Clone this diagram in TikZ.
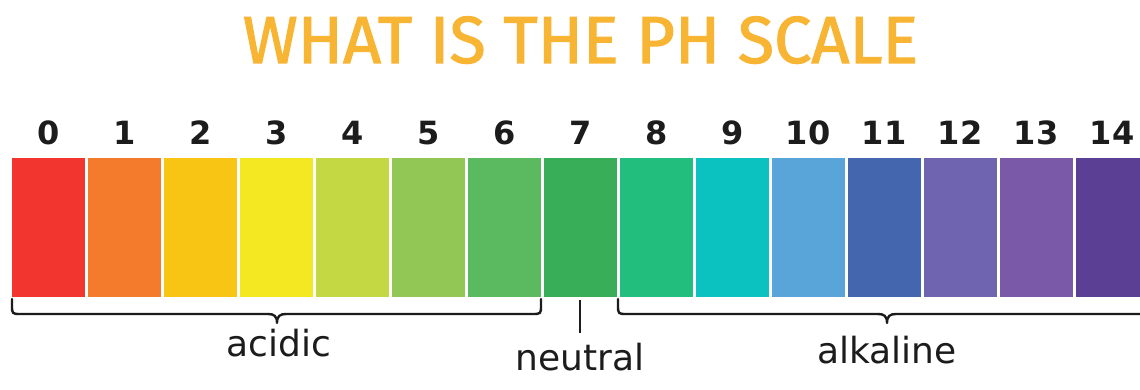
\documentclass[tikz,border=0pt]{standalone}
\usepackage{fontspec}
\usepackage{graphicx}
\newfontfamily\titlefont{Fira Sans}[FakeBold=1.6]
\newfontfamily\labelfont{DejaVu Sans}

% pH colour strip, acid to base
\definecolor{ph0}{HTML}{F2352F}
\definecolor{ph1}{HTML}{F47A2C}
\definecolor{ph2}{HTML}{F8C515}
\definecolor{ph3}{HTML}{F4E822}
\definecolor{ph4}{HTML}{C4D843}
\definecolor{ph5}{HTML}{92C655}
\definecolor{ph6}{HTML}{5BBA5F}
\definecolor{ph7}{HTML}{37AE57}
\definecolor{ph8}{HTML}{21BE7E}
\definecolor{ph9}{HTML}{0BC2C1}
\definecolor{ph10}{HTML}{59A4D8}
\definecolor{ph11}{HTML}{4466AF}
\definecolor{ph12}{HTML}{6E64AF}
\definecolor{ph13}{HTML}{7A59A9}
\definecolor{ph14}{HTML}{5A3F95}
\definecolor{titleorange}{HTML}{F8B533}
\definecolor{ink}{HTML}{1C1C1C}

\tikzset{
  phbar/.style={rectangle, draw=none, inner sep=0pt, minimum width=72.5pt, minimum height=139pt},
  phnum/.style={anchor=base, inner sep=0pt, text=ink, font=\labelfont\bfseries\fontsize{32}{35}\selectfont},
  phlabel/.style={anchor=base, inner sep=0pt, text=ink, font=\labelfont\fontsize{36}{40}\selectfont},
  bracepen/.style={draw=ink, line width=2.4pt, line cap=round, line join=round},
}

% curly brace below the strip: left end, right end, tip position
\newcommand{\phbrace}[3]{%
  \draw[bracepen] (#1,299) -- (#1,305)
    .. controls (#1,314) .. ({#1+9},314) -- ({#3-9},314)
    .. controls ({#3-3},314) and (#3,316) .. (#3,323)
    .. controls (#3,316) and ({#3+3},314) .. ({#3+9},314) -- ({#2-9},314)
    .. controls (#2,314) .. (#2,305) -- (#2,299);}

\begin{document}
\begin{tikzpicture}[x=1pt,y=-1pt]
  \clip (0,0) rectangle (1140,390);
  \fill[white] (0,0) rectangle (1140,390);

  % title
  \node[anchor=base, inner sep=0pt, text=titleorange] (title) at (580.5,63)
    {\resizebox{675pt}{!}{\titlefont WHAT IS THE PH SCALE}};

  % colour bars and their pH values
  \foreach \i in {0,...,14} {
    \node[phbar, fill=ph\i] (b\i) at ({48.25+76*\i},227.5) {};
    \node[phnum] (n\i) at ({48.25+76*\i},145) {\i};
  }

  % braces and labels
  \phbrace{12}{541}{277}
  \phbrace{618}{1156}{887}
  \node[phlabel] (acidic) at (279,356) {acidic};
  \node[phlabel] (alkaline) at (887,363) {alkaline};
  \node[phlabel] (neutral) at (580.25,370) {neutral};
  \draw[bracepen, line cap=butt] ([yshift=-3pt]b7.south) -- ([yshift=9pt]neutral.north);
\end{tikzpicture}
\end{document}
